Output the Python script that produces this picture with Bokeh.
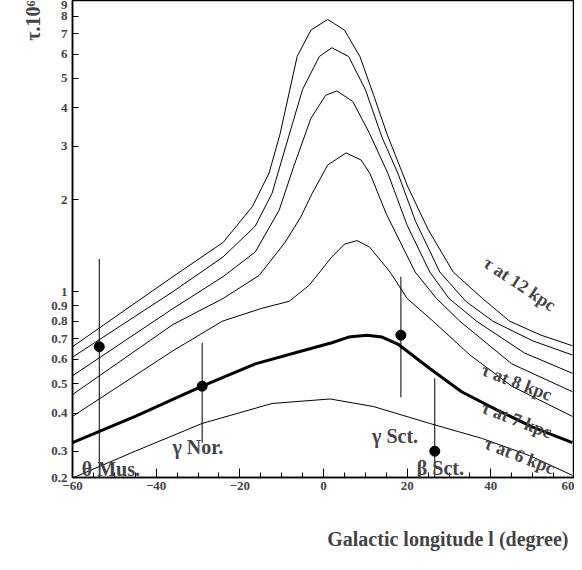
import math

from bokeh.embed import file_html
from bokeh.models import FixedTicker, Label, Range1d, Title
from bokeh.plotting import figure
from bokeh.resources import INLINE

# optical depth curves (l in degrees, tau in 1e-6)
l_12 = [-60, -36, -24, -17, -13, -10.4, -6.3, -3, 1, 5, 8.7, 12, 15.2, 20.2, 25, 31, 38, 44.5, 52, 59.5]
t_12 = [0.66, 1.12, 1.45, 1.9, 2.45, 3.28, 5.9, 7.2, 7.8, 7.2, 5.9, 4.4, 3.28, 2.2, 1.6, 1.16, 0.95, 0.80, 0.72, 0.665]
l_b = [-60, -36, -24, -16.3, -12.3, -9, -5, -1, 2, 6, 10, 14, 17.8, 22, 27.8, 34, 40.5, 50, 59.5]
t_b = [0.61, 1.0, 1.3, 1.64, 2.1, 3.0, 4.6, 5.9, 6.3, 5.9, 4.6, 3.2, 2.44, 1.7, 1.16, 0.93, 0.80, 0.69, 0.62]
l_c = [-60, -36, -24, -16.3, -10.6, -7, -3, 0.5, 3.2, 7, 11, 15.4, 20, 25.4, 30, 36.6, 48, 59.5]
t_c = [0.53, 0.88, 1.12, 1.35, 1.85, 2.6, 3.7, 4.4, 4.55, 4.2, 3.3, 2.44, 1.65, 1.16, 0.95, 0.80, 0.63, 0.54]
l_d = [-60, -36, -24, -15.4, -9.2, -5.5, -2.7, 1, 5.4, 9, 11.1, 15, 21.9, 27, 32.6, 45, 59.5]
t_d = [0.46, 0.78, 0.95, 1.13, 1.45, 1.75, 2.1, 2.6, 2.85, 2.7, 2.44, 1.8, 1.16, 0.95, 0.80, 0.58, 0.47]
l_e = [-60, -36, -24.2, -15, -8.2, -3.4, 2, 5, 8, 11, 15.9, 20, 26.2, 35, 45, 59.5]
t_e = [0.39, 0.64, 0.80, 0.88, 0.93, 1.05, 1.3, 1.43, 1.47, 1.4, 1.16, 0.95, 0.80, 0.62, 0.49, 0.39]
l_8 = [-60, -45, -29, -16.3, -5, 2, 6, 10.4, 14, 18, 25.4, 33, 41.4, 50, 59.5]
t_8 = [0.32, 0.39, 0.49, 0.58, 0.64, 0.68, 0.71, 0.72, 0.71, 0.67, 0.56, 0.47, 0.41, 0.36, 0.32]
l_6 = [-60, -45, -29, -12.3, 1.6, 12, 25.4, 38, 49.3, 59.5]
t_6 = [0.245, 0.30, 0.37, 0.43, 0.445, 0.42, 0.37, 0.33, 0.29, 0.25]

# stars
star_names = ["θ Mus.", "γ Nor.", "γ Sct.", "β Sct."]
star_l = [-53.6, -29, 18.5, 26.6]
star_tau = [0.66, 0.49, 0.72, 0.30]
star_lo = [0.246, 0.32, 0.45, 0.246]
star_hi = [1.28, 0.68, 1.12, 0.52]
name_l = [-57.8, -36.1, 11.6, 22.3]
name_tau = [0.263, 0.31, 0.336, 0.265]

curve_labels = ["τ at 12 kpc", "τ at 8 kpc", "τ at 7 kpc", "τ at 6 kpc"]
curve_label_l = [46.9, 46.2, 46.2, 46.9]
curve_label_tau = [1.06, 0.505, 0.38, 0.29]
curve_label_deg = [-34, -21, -21, -21]

y_ticks = [0.246, 0.3, 0.4, 0.5, 0.6, 0.7, 0.8, 0.9, 1, 2, 3, 4, 5, 6, 7, 8, 9]
y_tick_text = ["0.2", "0.3", "0.4", "0.5", "0.6", "0.7", "0.8", "0.9", "1", "2", "3", "4", "5", "6", "7", "8", "9"]

serif = "Liberation Serif"

p = figure(width=574, height=554, y_axis_type="log",
           x_range=Range1d(-60, 60), y_range=Range1d(0.246, 9),
           output_backend="svg", toolbar_location=None,
           min_border_left=72, min_border_right=0, min_border_top=0, min_border_bottom=72)
p.grid.visible = False
p.outline_line_color = "black"
p.outline_line_width = 1.5
p.background_fill_color = "white"

for xs, ys in [(l_12, t_12), (l_b, t_b), (l_c, t_c), (l_d, t_d), (l_e, t_e), (l_6, t_6)]:
    p.line(xs, ys, color="black", line_width=1)
p.line(l_8, t_8, color="black", line_width=3)

p.segment(star_l, star_lo, star_l, star_hi, color="black", line_width=1)
p.scatter(star_l, star_tau, size=10, color="black")

for name, x, y in zip(star_names, name_l, name_tau):
    p.add_layout(Label(x=x, y=y, text=name, text_font=serif, text_font_size="20px",
                       text_font_style="bold", text_baseline="alphabetic"))

for txt, x, y, deg in zip(curve_labels, curve_label_l, curve_label_tau, curve_label_deg):
    p.add_layout(Label(x=x, y=y, text=txt, angle=math.radians(deg), text_font=serif,
                       text_font_size="18px", text_font_style="bold",
                       text_align="center", text_baseline="middle"))

# empty axis label only reserves room so the title sits lower, as in the original
p.xaxis.axis_label = " "
p.xaxis.axis_label_text_font_size = "18px"
p.add_layout(Title(text="Galactic longitude l (degree)", align="right", text_font=serif,
                   text_font_size="20px", text_font_style="bold", offset=6), "below")
p.add_layout(Title(text="τ.10⁶", align="right", text_font=serif,
                   text_font_size="20px", text_font_style="bold"), "left")

p.xaxis.ticker = FixedTicker(ticks=[-60, -40, -20, 0, 20, 40, 60],
                             minor_ticks=list(range(-60, 61, 5)))
p.yaxis.ticker = FixedTicker(ticks=y_ticks, minor_ticks=[])
p.yaxis.major_label_overrides = dict(zip(y_ticks, y_tick_text))
for ax in (p.xaxis, p.yaxis):
    ax.major_label_text_font = serif
    ax.major_label_text_font_size = "13px"
    ax.major_label_text_font_style = "bold"
    ax.major_tick_in = 9
    ax.major_tick_out = 0
    ax.minor_tick_in = 5
    ax.minor_tick_out = 0
    ax.axis_line_width = 1.5
p.yaxis.major_tick_in = 6
p.xaxis.major_label_standoff = 4

open("out.html", "w").write(file_html(p, INLINE))
